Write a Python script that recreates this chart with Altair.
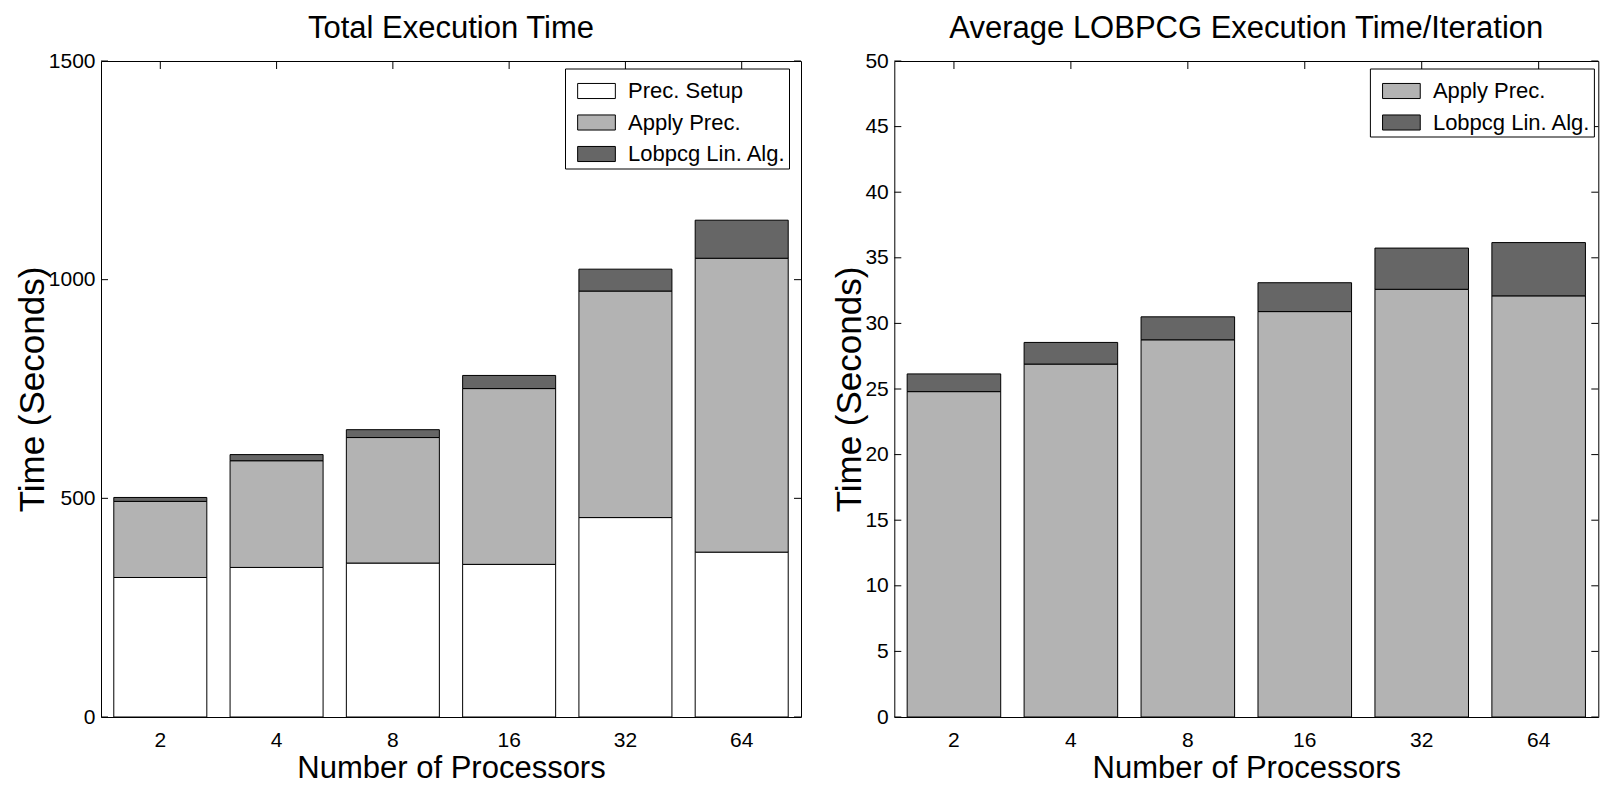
import altair as alt
import pandas as pd

# ---------------- data ----------------
procs = ["2", "4", "8", "16", "32", "64"]

left_components = ["Prec. Setup", "Apply Prec.", "Lobpcg Lin. Alg."]
left_setup = [319, 342, 352, 349, 456, 377]
left_apply = [174, 244, 287, 402, 518, 672]
left_linalg = [9, 14, 18, 30, 50, 87]
left_ticks = [0, 500, 1000, 1500]

right_components = ["Apply Prec.", "Lobpcg Lin. Alg."]
right_apply = [24.8, 26.9, 28.75, 30.9, 32.6, 32.1]
right_linalg = [1.35, 1.65, 1.75, 2.2, 3.14, 4.06]
right_ticks = [0, 5, 10, 15, 20, 25, 30, 35, 40, 45, 50]

component_colors = ["#ffffff", "#b3b3b3", "#666666"]
color_of = dict(zip(left_components, component_colors))

FONT = "Liberation Sans"


def make_df(comps, series):
    rows = []
    for k, (c, vals) in enumerate(zip(comps, series)):
        for p, v in zip(procs, vals):
            rows.append({"procs": p, "component": c, "value": v, "idx": k})
    return pd.DataFrame(rows)


left_df = make_df(left_components, [left_setup, left_apply, left_linalg])
right_df = make_df(right_components, [right_apply, right_linalg])

H = 656


def panel(df, comps, ymax, ticks, W, title, legend_x):
    xscale = alt.Scale(domain=procs, paddingInner=0.2, paddingOuter=0.11)
    yscale = alt.Scale(domain=[0, ymax], nice=False, zero=True)
    xax = alt.Axis(title="Number of Processors", labelAngle=0, titleY=60,
                   titleBaseline="alphabetic", titleFont=FONT, titleFontSize=31)
    yax = alt.Axis(values=ticks, format="d", title="Time (Seconds)",
                   titleFont=FONT, titleFontSize=35, titlePadding=-2.3)
    legend = alt.Legend(
        title=None, orient="none", legendX=legend_x, legendY=7.5,
        direction="vertical", fillColor="white", strokeColor="black",
        padding=3, cornerRadius=0,
        symbolType="M-1,-0.4L1,-0.4L1,0.4L-1,0.4Z", symbolSize=1421,
        symbolStrokeColor="black", symbolStrokeWidth=1, symbolOpacity=1,
        symbolOffset=9, labelOffset=12, rowPadding=0.5,
        labelFont=FONT, labelFontSize=22, labelColor="black", labelLimit=400,
    )
    bars = alt.Chart(df).mark_bar(stroke="black", strokeWidth=1).encode(
        x=alt.X("procs:N", scale=xscale, axis=xax),
        y=alt.Y("value:Q", scale=yscale, axis=yax, stack="zero"),
        color=alt.Color("component:N",
                        scale=alt.Scale(domain=comps,
                                        range=[color_of[c] for c in comps]),
                        legend=legend),
        order=alt.Order("idx:Q", sort="ascending"),
    )
    tdf = pd.DataFrame({"value": ticks})
    yl = alt.Chart(tdf).mark_rule(color="black", strokeWidth=1).encode(
        y=alt.Y("value:Q", scale=yscale, axis=yax),
        x=alt.value(0), x2=alt.value(7))
    yr = alt.Chart(tdf).mark_rule(color="black", strokeWidth=1).encode(
        y=alt.Y("value:Q", scale=yscale, axis=yax),
        x=alt.value(W - 7), x2=alt.value(W))
    xdf = pd.DataFrame({"procs": procs})
    xt = alt.Chart(xdf).mark_rule(color="black", strokeWidth=1).encode(
        x=alt.X("procs:N", scale=xscale, axis=xax),
        y=alt.value(0), y2=alt.value(8))
    return alt.layer(bars, yl, yr, xt).properties(
        width=W, height=H,
        title=alt.TitleParams(title, font=FONT, fontSize=31, fontWeight="normal",
                              color="black", anchor="middle", frame="group",
                              baseline="top", offset=5.4),
    )


left = panel(left_df, left_components, 1500, left_ticks, 700,
             "Total Execution Time", 464)
right = panel(right_df, right_components, 50, right_ticks, 704,
              "Average LOBPCG Execution Time/Iteration", 475.6)

chart = (
    alt.hconcat(left, right, spacing=93.3, bounds="flush")
    .resolve_scale(x="independent", y="independent", color="independent")
    .resolve_legend(color="independent")
    .properties(padding={"left": 7, "top": 4, "right": 0, "bottom": 0},
                background="white")
    .configure_view(stroke="black", strokeWidth=1)
    .configure_axis(domain=False, grid=False, ticks=False, tickSize=0,
                    labelFont=FONT, labelFontSize=21, labelColor="black",
                    titleColor="black", titleFontWeight="normal",
                    labelPadding=6)
    .configure_axisX(labelPadding=12)
)

chart.save("out.html", embed_options={"renderer": "svg", "actions": False})
